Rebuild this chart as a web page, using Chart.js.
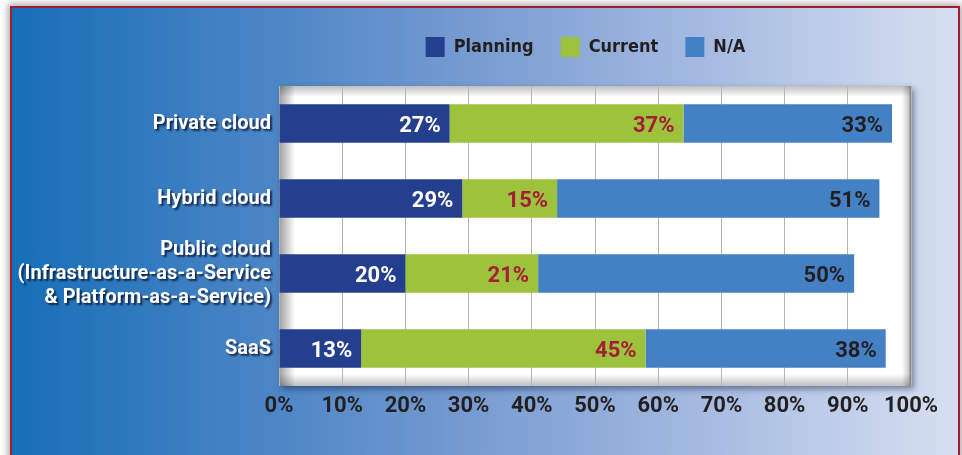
<!DOCTYPE html>
<html>
<head>
<meta charset="utf-8">
<script src="https://cdn.jsdelivr.net/npm/chart.js@4"></script>
<style>
  html, body { margin: 0; padding: 0; background: #ffffff; width: 962px; height: 455px; overflow: hidden; }
  #frame {
    position: absolute; left: 10px; top: 6px; width: 946px; height: 470px;
    border: 2px solid #a31d36;
    background: linear-gradient(to right, #166eb7 0%, #4d86c6 28%, #7a9dd2 50%, #a9bde2 75%, #d6dff0 100%);
    box-shadow: 0 0 7px 2px rgba(0,0,0,0.35);
  }
  #wrap { position: absolute; left: 0; top: 0; width: 962px; height: 455px; }
</style>
</head>
<body>
<div id="frame"></div>
<div id="wrap"><canvas id="c" width="962" height="455"></canvas></div>
<script>
// ---- data ----
const categories = ['Private cloud', 'Hybrid cloud', ['Public cloud', '(Infrastructure-as-a-Service', '& Platform-as-a-Service)'], 'SaaS'];
const seriesNames = ['Planning', 'Current', 'N/A'];
const planning = [27, 29, 20, 13];
const current = [37, 15, 21, 45];
const notApplicable = [33, 51, 50, 38];
const xTicks = [0, 10, 20, 30, 40, 50, 60, 70, 80, 90, 100];

// ---- styles ----
const SANS = "Roboto, 'Liberation Sans', sans-serif";
const COND = "'DejaVu Sans Condensed', Roboto, sans-serif";
const barColors = ['#253f8f', '#9dc23b', '#4480c4'];
const labelColors = ['#ffffff', '#a51d36', '#231f20'];

const plotBox = {
  id: 'plotBox',
  beforeDraw(chart) {
    const {ctx, chartArea: a} = chart;
    // place the legend block over the plot region (as in the reference)
    if (chart.legend) { chart.legend.left = 260; chart.legend.right = a.right; }
    const w = a.right - a.left, h = a.bottom - a.top;
    ctx.save();
    ctx.shadowColor = 'rgba(10,20,60,0.45)';
    ctx.shadowBlur = 6; ctx.shadowOffsetX = 3; ctx.shadowOffsetY = 3;
    ctx.fillStyle = '#ffffff';
    ctx.fillRect(a.left, a.top, w, h);
    ctx.restore();
    ctx.save();
    let g = ctx.createLinearGradient(a.left, 0, a.left + 16, 0);
    g.addColorStop(0, 'rgba(0,0,0,0.38)'); g.addColorStop(1, 'rgba(0,0,0,0)');
    ctx.fillStyle = g; ctx.fillRect(a.left, a.top, 16, h);
    g = ctx.createLinearGradient(0, a.top, 0, a.top + 11);
    g.addColorStop(0, 'rgba(0,0,0,0.25)'); g.addColorStop(1, 'rgba(0,0,0,0)');
    ctx.fillStyle = g; ctx.fillRect(a.left, a.top, w, 11);
    g = ctx.createLinearGradient(0, a.bottom, 0, a.bottom - 12);
    g.addColorStop(0, 'rgba(0,0,0,0.25)'); g.addColorStop(1, 'rgba(0,0,0,0)');
    ctx.fillStyle = g; ctx.fillRect(a.left, a.bottom - 12, w, 12);
    g = ctx.createLinearGradient(a.right, 0, a.right - 9, 0);
    g.addColorStop(0, 'rgba(0,0,0,0.28)'); g.addColorStop(1, 'rgba(0,0,0,0)');
    ctx.fillStyle = g; ctx.fillRect(a.right - 9, a.top, 9, h);
    ctx.fillStyle = '#8c8c8c';
    ctx.fillRect(a.right - 1.5, a.top, 1.5, h);
    ctx.restore();
    // shadow on y tick labels
    const ys = chart.scales.y;
    if (ys && !ys._shadowPatched) {
      const orig = ys.drawLabels.bind(ys);
      ys.drawLabels = function(ca) {
        const c = this.ctx;
        c.save();
        c.shadowColor = 'rgba(0,0,30,0.7)';
        c.shadowOffsetX = 2; c.shadowOffsetY = 2; c.shadowBlur = 2;
        orig(ca);
        c.restore();
      };
      ys._shadowPatched = true;
    }
  }
};

const legendSpace = {
  id: 'legendSpace',
  beforeUpdate(chart) {
    const lg = chart.legend;
    if (lg && !lg._patched) {
      const f = lg.fit.bind(lg);
      lg.fit = function() { f(); this.height += 19; };
      lg._patched = true;
    }
  }
};

const valueLabels = {
  id: 'valueLabels',
  afterDatasetsDraw(chart) {
    const ctx = chart.ctx;
    ctx.save();
    ctx.font = 'bold 22px ' + SANS;
    ctx.textAlign = 'right';
    ctx.textBaseline = 'middle';
    chart.data.datasets.forEach((ds, i) => {
      const meta = chart.getDatasetMeta(i);
      meta.data.forEach((bar, j) => {
        ctx.fillStyle = labelColors[i];
        ctx.fillText(ds.data[j] + '%', bar.x - 9, bar.y + 3);
      });
    });
    ctx.restore();
  }
};

new Chart(document.getElementById('c'), {
  type: 'bar',
  data: {
    labels: categories,
    datasets: [planning, current, notApplicable].map((d, i) => ({
      label: seriesNames[i],
      data: d,
      backgroundColor: barColors[i],
      borderWidth: 0,
      barPercentage: 0.514,
      categoryPercentage: 1
    }))
  },
  options: {
    indexAxis: 'y',
    responsive: false,
    animation: false,
    layout: { padding: { left: 0, right: 51, top: 10, bottom: 0 } },
    plugins: {
      tooltip: { enabled: false },
      legend: {
        position: 'top',
        labels: {
          boxWidth: 19, boxHeight: 20, padding: 27,
          color: '#231f20',
          font: { family: COND, size: 18, weight: 'bold' }
        }
      }
    },
    scales: {
      x: {
        stacked: true, min: 0, max: 100,
        afterBuildTicks(s) { s.ticks = xTicks.map(v => ({ value: v })); },
        afterFit(s) { s.height = 69; },
        grid: { color: '#b5b5b5', lineWidth: 1, drawTicks: false },
        border: { display: false },
        ticks: {
          padding: 7, color: '#231f20', autoSkip: false, maxRotation: 0, minRotation: 0,
          font: { family: SANS, size: 22, weight: 'bold' },
          callback: v => v + '%'
        }
      },
      y: {
        stacked: true,
        afterFit(s) { s.width = 279; },
        grid: { display: false, drawTicks: false },
        border: { display: false },
        ticks: {
          padding: 8, color: '#ffffff',
          font: { family: SANS, size: 20, weight: 'bold', lineHeight: 1.2 }
        }
      }
    }
  },
  plugins: [legendSpace, plotBox, valueLabels]
});
</script>
</body>
</html>
